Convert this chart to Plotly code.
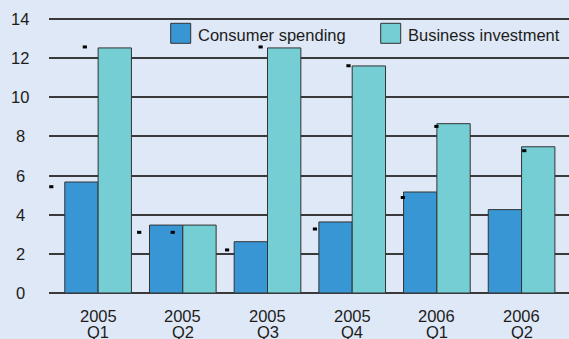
import plotly.graph_objects as go

years = ["2005", "2005", "2005", "2005", "2006", "2006"]
quarters = ["Q1", "Q2", "Q3", "Q4", "Q1", "Q2"]
consumer = [5.67, 3.47, 2.62, 3.63, 5.16, 4.26]
business = [12.52, 3.47, 12.52, 11.6, 8.65, 7.47]
consumer_prev = [5.43, 3.1, 2.2, 3.27, 4.88, None]
business_prev = [12.57, 3.1, 12.57, 11.61, 8.51, 7.27]
y_ticks = [0, 2, 4, 6, 8, 10, 12, 14]
series_names = ["Consumer spending", "Business investment"]

BG = "#dfe8f6"
C1 = "#3896d4"
C2 = "#74ced4"
EDGE = "#333333"
TXT = "#1c1c1c"
FONT = "Liberation Sans"
FS = 16.5

W, H = 569, 339
L, R, T, B = 49, 0, 17, 46
PW, PH = W - L - R, H - T - B
YMAX = 14.1

idx = list(range(len(years)))
step = 1.0378
cons_x = [i * step - 0.553 for i in idx]
bus_x = [i * step - 0.157 for i in idx]

fig = go.Figure()
fig.add_trace(go.Bar(x=idx, y=consumer, name=series_names[0], marker=dict(color=C1, line=dict(color=EDGE, width=1)), showlegend=False))
fig.add_trace(go.Bar(x=idx, y=business, name=series_names[1], marker=dict(color=C2, line=dict(color=EDGE, width=1)), showlegend=False))
fig.add_trace(go.Scatter(x=cons_x, y=consumer_prev, mode="markers", marker=dict(symbol="line-ew", size=3, line=dict(color="black", width=3)), showlegend=False))
fig.add_trace(go.Scatter(x=bus_x, y=business_prev, mode="markers", marker=dict(symbol="line-ew", size=3, line=dict(color="black", width=3)), showlegend=False))

def px_to_paper_x(px):
    return (px - L) / PW

def py_to_paper_y(py):
    return (H - B - py) / PH

ann = []
for i in idx:
    ann.append(dict(x=i, xref="x", y=py_to_paper_y(316), yref="paper", text=years[i], showarrow=False,
                    xanchor="center", yanchor="middle", font=dict(family=FONT, size=FS, color=TXT)))
    ann.append(dict(x=i, xref="x", y=py_to_paper_y(332), yref="paper", text=quarters[i], showarrow=False,
                    xanchor="center", yanchor="middle", font=dict(family=FONT, size=FS, color=TXT)))
for v in y_ticks:
    ann.append(dict(x=px_to_paper_x(20), xref="paper", y=v, yref="y", text=str(v), showarrow=False,
                    xanchor="center", yanchor="middle", font=dict(family=FONT, size=FS, color=TXT)))

shapes = []
legend_items = [(170.7, C1, series_names[0], 195.5), (380.7, C2, series_names[1], 405.8)]
for bx, col, name, tx in legend_items:
    shapes.append(dict(type="rect", xref="paper", yref="paper",
                       x0=px_to_paper_x(bx), x1=px_to_paper_x(bx + 20),
                       y0=py_to_paper_y(43.3), y1=py_to_paper_y(23.3),
                       fillcolor=col, line=dict(color=EDGE, width=1)))
    ann.append(dict(x=px_to_paper_x(tx), xref="paper", y=py_to_paper_y(35), yref="paper", text=name,
                    showarrow=False, xanchor="left", yanchor="middle",
                    font=dict(family=FONT, size=FS, color=TXT)))

fig.update_layout(
    width=W, height=H,
    margin=dict(l=L, r=R, t=T, b=B, pad=0),
    paper_bgcolor=BG, plot_bgcolor=BG,
    barmode="group", bargap=0.213, bargroupgap=0,
    xaxis=dict(range=[-0.58, 5.56], showticklabels=False, showgrid=False, zeroline=False, showline=False, ticks=""),
    yaxis=dict(range=[0, YMAX], tickvals=y_ticks, showticklabels=False, showgrid=True, gridcolor="#3a3a3a",
               gridwidth=1.6, zeroline=True, zerolinecolor="#3a3a3a", zerolinewidth=1.6, showline=False, ticks=""),
    annotations=ann, shapes=shapes,
    font=dict(family=FONT, color=TXT),
)

fig.write_html("out.html")
